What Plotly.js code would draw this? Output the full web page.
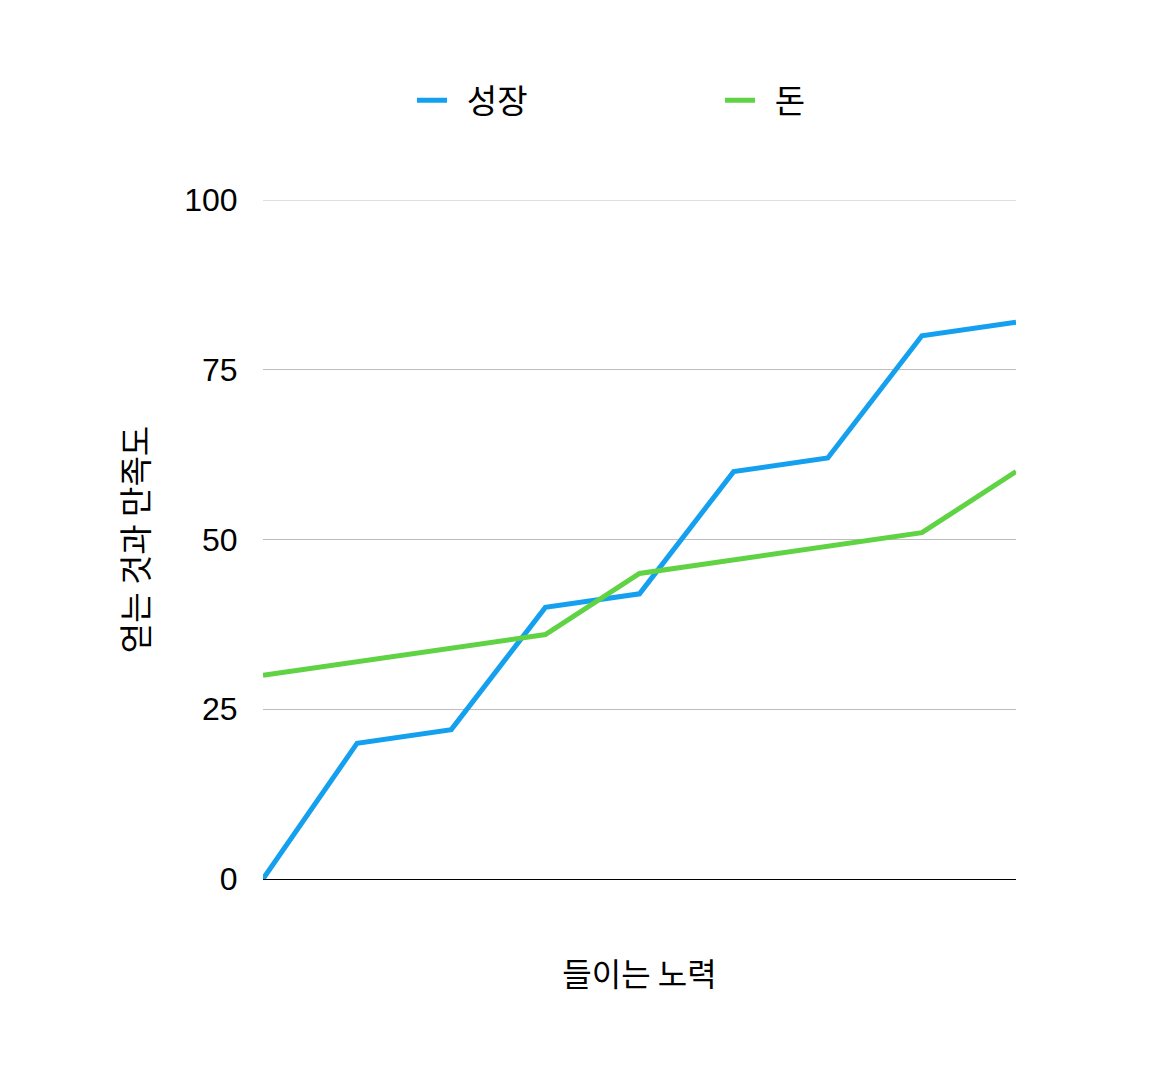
<!DOCTYPE html>
<html>
<head>
<meta charset="utf-8">
<script src="https://cdn.plot.ly/plotly-3.0.1.min.js"></script>
<style>html,body{margin:0;padding:0;background:#fff;}#chart{width:1152px;height:1080px;}</style>
</head>
<body>
<div id="chart"></div>
<script>
var steps = [0, 1, 2, 3, 4, 5, 6, 7, 8];
var growth = [0, 20, 22, 40, 42, 60, 62, 80, 82];
var money = [30, 32, 34, 36, 45, 47, 49, 51, 60];
var seriesNames = ['성장', '돈'];
var yTicks = [0, 25, 50, 75, 100];
var xTitle = '들이는 노력';
var yTitle = '얻는 것과 만족도';

var fontFam = 'Liberation Sans, Arimo, "Noto Sans CJK KR", sans-serif';
var krFam = '"Noto Sans CJK KR", "Liberation Sans", sans-serif';
var pad = '\u00a0\u00a0';
var yMax = yTicks[yTicks.length - 1];

var traces = [
  {x: steps, y: growth, name: pad + seriesNames[0], type: 'scatter', mode: 'lines',
   line: {color: '#15a0ef', width: 5}},
  {x: steps, y: money, name: pad + seriesNames[1], type: 'scatter', mode: 'lines',
   line: {color: '#5fd343', width: 5}}
];

var layout = {
  width: 1152, height: 1080,
  margin: {l: 263, r: 136, t: 200, b: 201},
  paper_bgcolor: '#fff', plot_bgcolor: '#fff',
  showlegend: true,
  legend: {orientation: 'h', x: (412 - 263) / 753, xanchor: 'left', y: 1.147, yanchor: 'middle',
           font: {family: krFam, size: 33, color: '#000'}, entrywidth: 263},
  xaxis: {range: [0, 8], showgrid: false, zeroline: false, showticklabels: false,
          showline: true, linecolor: '#000', linewidth: 1, ticks: '',
          title: {text: xTitle, font: {family: krFam, size: 32, color: '#000'}, standoff: 84}},
  yaxis: {range: [0, yMax], tickvals: yTicks, ticktext: yTicks.map(String),
          showgrid: true, gridcolor: '#bdbdbd', gridwidth: 1, zeroline: false,
          ticks: 'outside', ticklen: 18, tickcolor: 'rgba(0,0,0,0)',
          tickfont: {family: fontFam, size: 32, color: '#000'},
          title: {text: yTitle, font: {family: krFam, size: 33, color: '#000'}, standoff: 25}},
  shapes: [{type: 'line', xref: 'paper', yref: 'y', x0: 0, x1: 1, y0: yMax, y1: yMax,
            line: {color: '#bdbdbd', width: 1}, layer: 'below'}]
};

Plotly.newPlot('chart', traces, layout, {displayModeBar: false, staticPlot: true});
</script>
</body>
</html>
